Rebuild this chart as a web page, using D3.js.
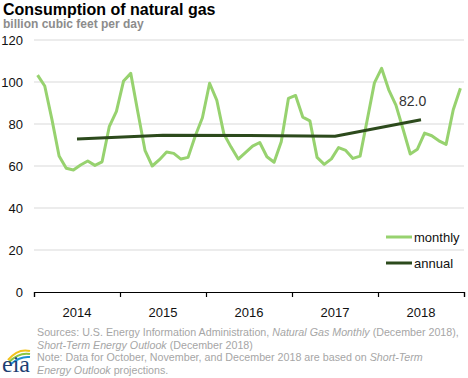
<!DOCTYPE html>
<html>
<head>
<meta charset="utf-8">
<script src="https://cdn.jsdelivr.net/npm/d3@7"></script>
<style>
  body { margin: 0; background: #fff; }
  svg { font-family: "Liberation Sans", Arial, sans-serif; }
</style>
</head>
<body>
<div id="chart"></div>
<script>
// monthly consumption, Jan 2014 .. Dec 2018 (bcf/d)
const monthly = [
  103.3, 98.1, 82.2, 64.8, 58.9, 58.1, 60.5, 62.4, 60.3, 62.0, 78.7, 86.0,
  100.5, 104.1, 85.5, 67.3, 60.0, 63.0, 66.7, 66.0, 63.3, 64.1, 74.3, 83.0,
  99.4, 91.4, 75.2, 69.0, 63.3, 66.4, 69.5, 71.2, 64.4, 61.8, 71.6, 92.2,
  93.6, 83.3, 81.5, 64.1, 60.8, 63.4, 68.8, 67.4, 63.6, 64.7, 82.0, 99.6,
  106.5, 96.3, 89.0, 77.5, 65.7, 68.0, 75.7, 74.4, 72.0, 70.3, 86.8, 97.0
];
const years = [2014, 2015, 2016, 2017, 2018];
const annual = [72.9, 74.6, 74.5, 74.2, 82.0];
const yTicks = [0, 20, 40, 60, 80, 100, 120];

const W = 468, H = 378;
const svg = d3.select("#chart").append("svg")
  .attr("width", W).attr("height", H);

const x = d3.scaleLinear().domain([0, 60]).range([34, 464]);
const y = d3.scaleLinear().domain([0, 120]).range([292, 40]);

// title
svg.append("text").attr("x", 3).attr("y", 15)
  .style("font-size", "16px").style("font-weight", "bold").attr("fill", "#000")
  .text("Consumption of natural gas");
svg.append("text").attr("x", 3).attr("y", 28)
  .style("font-size", "12px").style("font-weight", "bold").attr("fill", "#8c8c8c")
  .text("billion cubic feet per day");

// grid
svg.append("g").selectAll("line").data(yTicks.filter(d => d > 0)).join("line")
  .attr("x1", x(0)).attr("x2", x(60))
  .attr("y1", d => y(d)).attr("y2", d => y(d))
  .attr("stroke", "#d9d9d9").attr("stroke-width", 1);

// y axis labels
const yAxis = svg.append("g")
  .attr("transform", "translate(23,0)")
  .call(d3.axisLeft(y).tickValues(yTicks).tickSize(0).tickPadding(0));
yAxis.select(".domain").remove();
yAxis.selectAll("text").style("font-size", "13px").attr("fill", "#111")
  .attr("font-family", "Liberation Sans, Arial, sans-serif");

// x axis
const xAxis = svg.append("g")
  .attr("transform", `translate(0,${y(0)})`)
  .call(d3.axisBottom(x).tickValues([0, 12, 24, 36, 48, 60]).tickSize(5).tickFormat(""));
xAxis.select(".domain").attr("stroke", "#000").attr("stroke-width", 1.2);
xAxis.selectAll(".tick line").attr("stroke", "#000").attr("stroke-width", 1.2);

svg.append("g").selectAll("text").data(years).join("text")
  .attr("x", (d, i) => x(i * 12 + 6))
  .attr("y", 317)
  .attr("text-anchor", "middle")
  .style("font-size", "13px").attr("fill", "#111")
  .text(d => d);

// lines
const monthlyLine = d3.line()
  .x((d, i) => x(i + 0.5))
  .y(d => y(d));
svg.append("path").datum(monthly)
  .attr("d", monthlyLine)
  .attr("fill", "none").attr("stroke", "#97d26f").attr("stroke-width", 3)
  .attr("stroke-linejoin", "round");

const annualLine = d3.line()
  .x((d, i) => x(i * 12 + 6))
  .y(d => y(d));
svg.append("path").datum(annual)
  .attr("d", annualLine)
  .attr("fill", "none").attr("stroke", "#2c4a1c").attr("stroke-width", 3)
  .attr("stroke-linejoin", "round");

svg.append("text")
  .attr("x", x(4 * 12 + 6) - 22).attr("y", y(annual[4]) - 14)
  .style("font-size", "14px").attr("fill", "#333")
  .text(annual[4].toFixed(1));

// legend
const legend = [
  { name: "monthly", color: "#97d26f", yy: 237 },
  { name: "annual", color: "#2c4a1c", yy: 263 }
];
const lg = svg.append("g").selectAll("g").data(legend).join("g");
lg.append("line")
  .attr("x1", 386).attr("x2", 412)
  .attr("y1", d => d.yy).attr("y2", d => d.yy)
  .attr("stroke", d => d.color).attr("stroke-width", 3);
lg.append("text")
  .attr("x", 414).attr("y", d => d.yy + 5)
  .style("font-size", "13px").attr("fill", "#111")
  .text(d => d.name);

// source notes
const notes = svg.append("g").style("font-size", "10.7px").attr("fill", "#a6a6a6");
const noteLines = [
  [["Sources: U.S. Energy Information Administration, ", false], ["Natural Gas Monthly", true], [" (December 2018),", false]],
  [["Short-Term Energy Outlook", true], [" (December 2018)", false]],
  [["Note: Data for October, November, and December 2018 are based on ", false], ["Short-Term", true]],
  [["Energy Outlook", true], [" projections.", false]]
];
noteLines.forEach((parts, i) => {
  const t = notes.append("text").attr("x", 37).attr("y", 336 + i * 12.5);
  parts.forEach(p => {
    t.append("tspan").style("font-style", p[1] ? "italic" : "normal").text(p[0]);
  });
});

// eia logo
const logo = svg.append("g");
logo.append("path").attr("d", "M8,360 Q18,348 30,351").attr("fill", "none")
  .attr("stroke", "#f2c21b").attr("stroke-width", 2);
logo.append("path").attr("d", "M9,362 Q19,352 30,354").attr("fill", "none")
  .attr("stroke", "#8cc63f").attr("stroke-width", 2);
logo.append("path").attr("d", "M11,364 Q20,356 30,357").attr("fill", "none")
  .attr("stroke", "#1f8fd1").attr("stroke-width", 2);
logo.append("text").attr("x", 2).attr("y", 372)
  .style("font-family", "Liberation Serif, serif").style("font-size", "24px")
  .attr("fill", "#1d3f73").text("eia");
</script>
</body>
</html>
